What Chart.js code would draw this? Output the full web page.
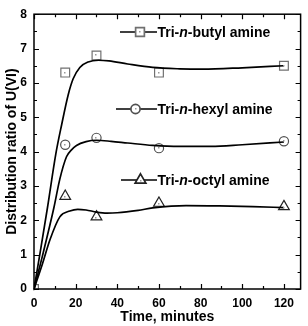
<!DOCTYPE html>
<html>
<head>
<meta charset="utf-8">
<script src="https://cdn.jsdelivr.net/npm/chart.js@4"></script>
<style>
  html, body { margin: 0; padding: 0; background: #fff; }
  #box { width: 308px; height: 326px; }
</style>
</head>
<body>
<div id="box"><canvas id="myChart" width="308" height="326"></canvas></div>
<script>
'use strict';
// measured points (minutes, distribution ratio)
let timeMarkers = [0, 15, 30, 60, 120];
let butylMarkers = [0, 6.3, 6.8, 6.3, 6.5];
let hexylMarkers = [0, 4.2, 4.4, 4.1, 4.3];
let octylMarkers = [0, 2.7, 2.1, 2.5, 2.4];

// fitted curves
let butylCurveTime = [0, 3, 6.5, 10.5, 13.3, 16.4, 18.8, 22, 26, 31, 36, 45, 57, 70, 81, 100, 120];
let butylCurveValue = [0, 1.08, 2.38, 3.94, 4.79, 5.65, 6.12, 6.45, 6.61, 6.66, 6.64, 6.55, 6.45, 6.41, 6.4, 6.44, 6.5];
let hexylCurveTime = [0, 4, 9.6, 12.4, 15.6, 18, 20.4, 25, 30, 37, 45, 57, 70, 85, 100, 120];
let hexylCurveValue = [0, 0.95, 2.38, 3.2, 3.85, 4.05, 4.18, 4.29, 4.33, 4.3, 4.25, 4.18, 4.15, 4.15, 4.2, 4.28];
let octylCurveTime = [0, 4, 7.7, 12.4, 17.2, 21, 25, 30, 35, 40, 50, 57, 73, 89, 105, 120];
let octylCurveValue = [0, 0.72, 1.44, 2.1, 2.27, 2.32, 2.3, 2.24, 2.21, 2.22, 2.29, 2.36, 2.43, 2.42, 2.4, 2.37];

let seriesNames = ['butyl', 'hexyl', 'octyl'];
let xTicks = [0, 20, 40, 60, 80, 100, 120];
let yTicks = [0, 1, 2, 3, 4, 5, 6, 7, 8];

let fontName = '"Liberation Sans", Arial, sans-serif';
let markerColors = ['#707070', '#505050', '#222222'];
let markerStyles = ['rect', 'circle', 'triangle'];
let markerRadius = [6.2, 4.6, 6.2];

function pairs(xs, ys) {
  let out = [];
  for (let i = 0; i < xs.length; i++) {
    out.push({ x: xs[i], y: ys[i] });
  }
  return out;
}

function curveSet(xs, ys) {
  return {
    type: 'line',
    data: pairs(xs, ys),
    borderColor: '#000',
    borderWidth: 1.7,
    pointRadius: 0,
    cubicInterpolationMode: 'monotone',
    fill: false
  };
}

function markerSet(ys, i) {
  return {
    type: 'scatter',
    data: pairs(timeMarkers, ys),
    pointStyle: markerStyles[i],
    pointRadius: markerRadius[i],
    pointBorderWidth: 1.2,
    pointBorderColor: markerColors[i],
    pointBackgroundColor: '#fff',
    showLine: false
  };
}

// draw one marker on the canvas (used by legend)
function drawMarker(ctx, i, x, y) {
  Chart.helpers.drawPoint(ctx, {
    pointStyle: markerStyles[i],
    radius: markerRadius[i],
    rotation: 0,
    borderWidth: 1.2
  }, x, y);
  dot(ctx, x, y + (i === 2 ? 1 : 0));
}

// small grey dot in the middle of each marker
function dot(ctx, x, y) {
  ctx.save();
  ctx.fillStyle = '#999';
  ctx.fillRect(Math.round(x) - 1, Math.round(y) - 1, 1.5, 1.5);
  ctx.restore();
}

let dotPlugin = {
  id: 'dots',
  afterDatasetsDraw(chart) {
    let ctx = chart.ctx;
    for (let d = 3; d < 6; d++) {
      let meta = chart.getDatasetMeta(d);
      meta.data.forEach(function (pt) {
        dot(ctx, pt.x, pt.y + (d === 5 ? 1 : 0));
      });
    }
  }
};

// inward ticks on all four sides and the box
let framePlugin = {
  id: 'frame',
  afterDraw(chart) {
    let ctx = chart.ctx;
    let a = chart.chartArea;
    let xs = chart.scales.x;
    let ys = chart.scales.y;
    ctx.save();
    ctx.strokeStyle = '#000';
    ctx.lineWidth = 1.5;
    ctx.strokeRect(a.left, a.top, a.right - a.left, a.bottom - a.top);
    ctx.lineWidth = 1.2;
    ctx.beginPath();
    for (let v = 0; v <= 128; v += 10) {
      let px = Math.round(xs.getPixelForValue(v)) + 0.5;
      let len = v % 20 === 0 ? 5 : 3;
      ctx.moveTo(px, a.bottom); ctx.lineTo(px, a.bottom - len);
      ctx.moveTo(px, a.top); ctx.lineTo(px, a.top + len);
    }
    for (let v = 0; v <= 8; v += 0.5) {
      let py = Math.round(ys.getPixelForValue(v)) + 0.5;
      let len = v % 1 === 0 ? 5 : 3;
      ctx.moveTo(a.left, py); ctx.lineTo(a.left + len, py);
      ctx.moveTo(a.right, py); ctx.lineTo(a.right - len, py);
    }
    ctx.stroke();
    ctx.restore();
  }
};

// the three labels inside the plot
let legendItems = [
  { x1: 120, x2: 157, mx: 140, y: 32 },
  { x1: 116, x2: 157, mx: 135.5, y: 109 },
  { x1: 121, x2: 157, mx: 140.5, y: 180 }
];

let legendPlugin = {
  id: 'amineLegend',
  afterDraw(chart) {
    let ctx = chart.ctx;
    ctx.save();
    for (let i = 0; i < legendItems.length; i++) {
      let it = legendItems[i];
      ctx.strokeStyle = '#000';
      ctx.lineWidth = 1.7;
      ctx.beginPath();
      ctx.moveTo(it.x1, it.y);
      ctx.lineTo(it.x2, it.y);
      ctx.stroke();
      ctx.fillStyle = '#fff';
      ctx.strokeStyle = markerColors[i];
      drawMarker(ctx, i, it.mx, it.y);

      let parts = [['Tri-', 'bold'], ['n', 'italic bold'], ['-' + seriesNames[i] + ' amine', 'bold']];
      let x = it.x2 + 0.5;
      ctx.fillStyle = '#000';
      ctx.textBaseline = 'middle';
      ctx.textAlign = 'left';
      for (let p = 0; p < parts.length; p++) {
        ctx.font = parts[p][1] + ' 14px ' + fontName;
        ctx.fillText(parts[p][0], x, it.y + 1);
        x += ctx.measureText(parts[p][0]).width;
      }
    }
    ctx.restore();
  }
};

let ctx = document.getElementById('myChart').getContext('2d');
let myChart = new Chart(ctx, {
  data: {
    datasets: [
      curveSet(butylCurveTime, butylCurveValue),
      curveSet(hexylCurveTime, hexylCurveValue),
      curveSet(octylCurveTime, octylCurveValue),
      markerSet(butylMarkers, 0),
      markerSet(hexylMarkers, 1),
      markerSet(octylMarkers, 2)
    ]
  },
  options: {
    responsive: false,
    animation: false,
    devicePixelRatio: 1,
    layout: { padding: { top: 7, right: 7, left: 0, bottom: 0 } },
    plugins: {
      legend: { display: false },
      tooltip: { enabled: false }
    },
    scales: {
      x: {
        type: 'linear',
        min: 0,
        max: 128,
        grid: { display: false, drawTicks: false },
        border: { display: false },
        afterBuildTicks(scale) {
          scale.ticks = xTicks.map(v => ({ value: v }));
        },
        afterFit(scale) { scale.height = 37; },
        ticks: {
          padding: 7,
          color: '#000',
          maxRotation: 0,
          font: { family: fontName, size: 12, weight: 'bold' }
        },
        title: {
          display: true,
          text: 'Time, minutes',
          color: '#000',
          padding: { top: 0, bottom: 0 },
          font: { family: fontName, size: 14, weight: 'bold' }
        }
      },
      y: {
        type: 'linear',
        min: 0,
        max: 8,
        grid: { display: false, drawTicks: false },
        border: { display: false },
        afterBuildTicks(scale) {
          scale.ticks = yTicks.map(v => ({ value: v }));
        },
        afterFit(scale) { scale.width = 34; },
        ticks: {
          padding: 7,
          color: '#000',
          font: { family: fontName, size: 12, weight: 'bold' }
        },
        title: {
          display: true,
          text: 'Distribution ratio of U(VI)',
          color: '#000',
          padding: { top: 4, bottom: 0 },
          font: { family: fontName, size: 14, weight: 'bold' }
        }
      }
    }
  },
  plugins: [framePlugin, dotPlugin, legendPlugin]
});
</script>
</body>
</html>
